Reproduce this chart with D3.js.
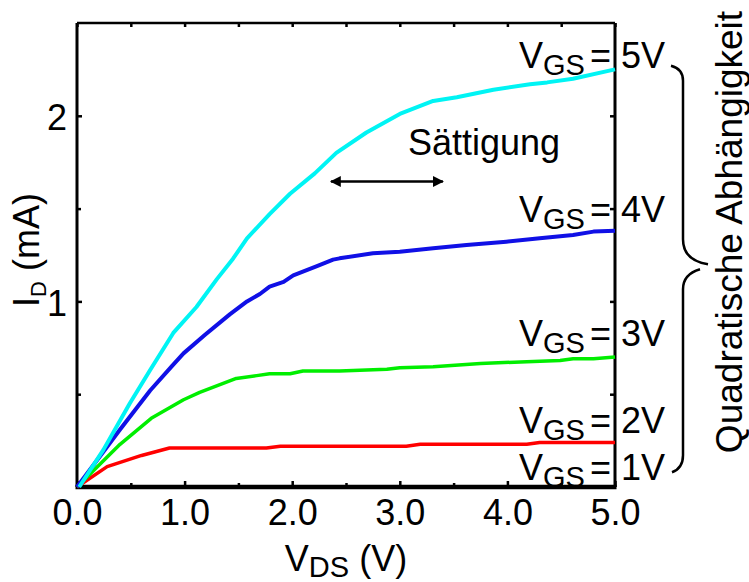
<!DOCTYPE html>
<html>
<head>
<meta charset="utf-8">
<script src="https://cdn.jsdelivr.net/npm/d3@7"></script>
<style>
  html, body { margin: 0; padding: 0; background: #fff; }
  svg { display: block; font-family: "Liberation Sans", Arial, sans-serif; }
</style>
</head>
<body>
<svg id="chart" width="749" height="582"></svg>
<script>
// ---- data (V_DS in V, I_D in mA) ----
const vds5 = [0.02, 0.245, 0.49, 0.68, 0.895, 1.11, 1.30, 1.45, 1.58, 1.79, 1.98, 2.21, 2.41, 2.69, 3.0, 3.31, 3.53, 3.87, 4.21, 4.37, 4.61, 5.0];
const id5  = [0, 0.20, 0.45, 0.63, 0.83, 0.97, 1.12, 1.23, 1.34, 1.47, 1.58, 1.69, 1.80, 1.91, 2.01, 2.08, 2.10, 2.14, 2.17, 2.18, 2.20, 2.25];
const vds4 = [0, 0.40, 0.68, 0.88, 0.99, 1.19, 1.42, 1.58, 1.70, 1.79, 1.92, 2.01, 2.23, 2.38, 2.44, 2.75, 3.0, 3.31, 3.62, 3.99, 4.30, 4.61, 4.80, 5.0];
const id4  = [0, 0.31, 0.52, 0.65, 0.72, 0.82, 0.93, 1.00, 1.04, 1.08, 1.105, 1.14, 1.19, 1.225, 1.232, 1.259, 1.268, 1.286, 1.304, 1.322, 1.34, 1.358, 1.376, 1.381];
const vds3 = [0, 0.40, 0.69, 0.99, 1.14, 1.48, 1.67, 1.79, 1.98, 2.10, 2.44, 2.88, 3.0, 3.31, 3.75, 4.18, 4.49, 4.61, 4.80, 5.0];
const id3  = [0, 0.23, 0.37, 0.47, 0.51, 0.585, 0.60, 0.61, 0.61, 0.625, 0.625, 0.634, 0.643, 0.648, 0.666, 0.675, 0.681, 0.691, 0.691, 0.70];
const vds2 = [0, 0.28, 0.60, 0.86, 1.76, 1.89, 3.06, 3.19, 4.18, 4.30, 5.0];
const id2  = [0, 0.11, 0.17, 0.21, 0.21, 0.22, 0.22, 0.23, 0.23, 0.24, 0.24];

const xMajorTicks = [0, 1, 2, 3, 4, 5];
const xMinorTicks = [0.5, 1.5, 2.5, 3.5, 4.5];
const yMajorTicks = [1, 2];
const yMinorTicks = [0.5, 1.5];

const curveColors = ["#ff0000", "#00ee00", "#1010e6", "#00f4f4"];
const vgsLabels = ["1V", "2V", "3V", "4V", "5V"];
const vgsLabelCurrent = [0.04, 0.29, 0.76, 1.43, 2.26];

// ---- layout ----
const svg = d3.select("#chart");
const x = d3.scaleLinear().domain([0, 5]).range([77, 615]);
const y = d3.scaleLinear().domain([0, 2.5]).range([487, 23]);
const FS = 36;
const SUB = 29;

// axes (ticks inward)
const gB = svg.append("g").attr("transform", `translate(0,${y(0)})`)
  .call(d3.axisBottom(x).tickValues(xMajorTicks).tickFormat(d3.format(".1f")).tickSizeInner(-6).tickSizeOuter(0).tickPadding(12));
const gBm = svg.append("g").attr("transform", `translate(0,${y(0)})`)
  .call(d3.axisBottom(x).tickValues(xMinorTicks).tickFormat("").tickSizeInner(-4).tickSizeOuter(0));
const gT = svg.append("g").attr("transform", `translate(0,${y(2.5)})`)
  .call(d3.axisTop(x).tickValues(xMajorTicks.concat(xMinorTicks)).tickFormat("").tickSizeInner(-4).tickSizeOuter(0));
const gL = svg.append("g").attr("transform", `translate(${x(0)},0)`)
  .call(d3.axisLeft(y).tickValues(yMajorTicks).tickFormat(d3.format("d")).tickSizeInner(-5).tickSizeOuter(0).tickPadding(10));
const gLm = svg.append("g").attr("transform", `translate(${x(0)},0)`)
  .call(d3.axisLeft(y).tickValues(yMinorTicks).tickFormat("").tickSizeInner(-4).tickSizeOuter(0));
const gR = svg.append("g").attr("transform", `translate(${x(5)},0)`)
  .call(d3.axisRight(y).tickValues(yMajorTicks.concat(yMinorTicks)).tickFormat("").tickSizeInner(-5).tickSizeOuter(0));

[gB, gBm, gT, gL, gLm, gR].forEach(g => {
  g.select(".domain").remove();
  g.selectAll(".tick line").attr("stroke", "#000").attr("stroke-width", 2.5);
  g.selectAll("text").attr("font-size", FS).attr("fill", "#000")
    .attr("font-family", "'Liberation Sans', Arial, sans-serif");
});
gL.selectAll("text").attr("dy", "0.38em");

// frame
svg.append("line").attr("x1", x(0)).attr("x2", x(5)).attr("y1", y(2.5)).attr("y2", y(2.5)).attr("stroke", "#000").attr("stroke-width", 2.5);
svg.append("line").attr("x1", x(5)).attr("x2", x(5)).attr("y1", y(2.5)).attr("y2", y(0)).attr("stroke", "#000").attr("stroke-width", 3);
svg.append("line").attr("x1", x(0)).attr("x2", x(0)).attr("y1", y(2.5)).attr("y2", y(0)).attr("stroke", "#000").attr("stroke-width", 3);
svg.append("line").attr("x1", x(0) - 1.5).attr("x2", x(5) + 1.5).attr("y1", y(0)).attr("y2", y(0)).attr("stroke", "#000").attr("stroke-width", 4.5);

// curves
const line = d3.line().x(d => x(d[0])).y(d => y(d[1]));
const series = [
  { v: vds2, i: id2, c: curveColors[0], w: 3.5 },
  { v: vds3, i: id3, c: curveColors[1], w: 3.5 },
  { v: vds4, i: id4, c: curveColors[2], w: 4 },
  { v: vds5, i: id5, c: curveColors[3], w: 4 }
];
svg.append("g").selectAll("path").data(series).join("path")
  .attr("d", s => line(s.v.map((v, k) => [v, s.i[k]])))
  .attr("fill", "none").attr("stroke", s => s.c).attr("stroke-width", s => s.w)
  .attr("stroke-linejoin", "round").attr("stroke-linecap", "butt");

// V_GS labels
const labG = svg.append("g");
vgsLabels.forEach((lab, k) => {
  const by = y(vgsLabelCurrent[k]);
  const t = labG.append("text").attr("x", 611).attr("y", by).attr("text-anchor", "end").attr("font-size", FS);
  t.append("tspan").text("V");
  t.append("tspan").attr("font-size", SUB).attr("dy", 7).text("GS");
  t.append("tspan").attr("font-size", FS).attr("dy", -7).attr("dx", 5).text("=");
  labG.append("text").attr("x", 621).attr("y", by).attr("font-size", FS).text(lab);
});

// axis titles
const xt = svg.append("text").attr("x", (x(0) + x(5)) / 2).attr("y", 571).attr("text-anchor", "middle").attr("font-size", FS);
xt.append("tspan").text("V");
xt.append("tspan").attr("font-size", SUB).attr("dy", 6).text("DS");
xt.append("tspan").attr("font-size", FS).attr("dy", -6).text(" (V)");

const yt = svg.append("text").attr("transform", "translate(39,250) rotate(-90)").attr("text-anchor", "middle").attr("font-size", FS);
yt.append("tspan").text("I");
yt.append("tspan").attr("font-size", 22).attr("dy", 7).text("D");
yt.append("tspan").attr("font-size", FS).attr("dy", -7).text(" (mA)");

// Sättigung annotation
svg.append("text").attr("x", 408).attr("y", 155).attr("font-size", FS).text("Sättigung");
const defs = svg.append("defs");
defs.append("marker").attr("id", "ah").attr("viewBox", "0 0 10 10").attr("refX", 9).attr("refY", 5)
  .attr("markerWidth", 11).attr("markerHeight", 11).attr("markerUnits", "userSpaceOnUse").attr("orient", "auto-start-reverse")
  .append("path").attr("d", "M0,0 L10,5 L0,10 z").attr("fill", "#000");
svg.append("line").attr("x1", x(2.36)).attr("x2", x(3.4)).attr("y1", y(1.646)).attr("y2", y(1.646))
  .attr("stroke", "#000").attr("stroke-width", 2.5)
  .attr("marker-start", "url(#ah)").attr("marker-end", "url(#ah)");

// brace
const braceTop = y(2.27), braceMid = y(1.2), braceBot = y(0.09);
svg.append("path")
  .attr("d", `M671,${braceTop} Q683,${braceTop + 3} 683,${braceTop + 15} L683,${braceMid - 25} Q683,${braceMid - 4} 708,${braceMid}`
    + ` M700,${braceMid + 5} Q683,${braceMid + 10} 683,${braceMid + 25} L683,${braceBot - 15} Q683,${braceBot - 2} 672,${braceBot + 2}`)
  .attr("fill", "none").attr("stroke", "#000").attr("stroke-width", 2.5);

svg.append("text").attr("transform", "translate(742,232) rotate(-90)").attr("text-anchor", "middle")
  .attr("font-size", 37).text("Quadratische Abhängigkeit");
</script>
</body>
</html>
